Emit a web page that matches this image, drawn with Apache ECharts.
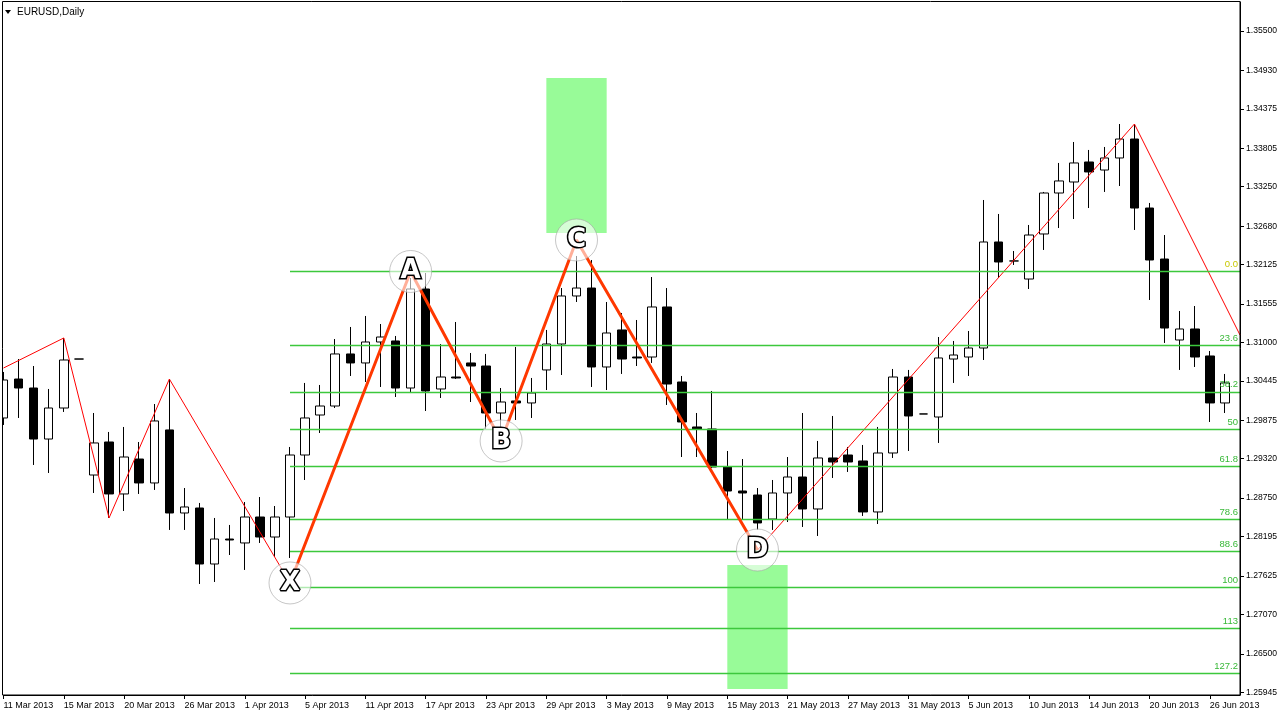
<!DOCTYPE html>
<html><head><meta charset="utf-8">
<script src="https://cdn.jsdelivr.net/npm/echarts@6/dist/echarts.min.js"></script>
<style>html,body{margin:0;padding:0;background:#fff}#c{width:1280px;height:720px}</style>
</head><body><div id="c"></div>
<script>
const dates = ['11 Mar 2013','12 Mar 2013','13 Mar 2013','14 Mar 2013','15 Mar 2013','17 Mar 2013','18 Mar 2013','19 Mar 2013','20 Mar 2013','21 Mar 2013','22 Mar 2013','25 Mar 2013','26 Mar 2013','27 Mar 2013','28 Mar 2013','29 Mar 2013','1 Apr 2013','2 Apr 2013','3 Apr 2013','4 Apr 2013','5 Apr 2013','8 Apr 2013','9 Apr 2013','10 Apr 2013','11 Apr 2013','12 Apr 2013','15 Apr 2013','16 Apr 2013','17 Apr 2013','18 Apr 2013','19 Apr 2013','22 Apr 2013','23 Apr 2013','24 Apr 2013','25 Apr 2013','26 Apr 2013','29 Apr 2013','30 Apr 2013','1 May 2013','2 May 2013','3 May 2013','6 May 2013','7 May 2013','8 May 2013','9 May 2013','10 May 2013','13 May 2013','14 May 2013','15 May 2013','16 May 2013','17 May 2013','20 May 2013','21 May 2013','22 May 2013','23 May 2013','24 May 2013','27 May 2013','28 May 2013','29 May 2013','30 May 2013','31 May 2013','2 Jun 2013','3 Jun 2013','4 Jun 2013','5 Jun 2013','6 Jun 2013','7 Jun 2013','9 Jun 2013','10 Jun 2013','11 Jun 2013','12 Jun 2013','13 Jun 2013','14 Jun 2013','17 Jun 2013','18 Jun 2013','19 Jun 2013','20 Jun 2013','21 Jun 2013','24 Jun 2013','25 Jun 2013','26 Jun 2013','27 Jun 2013','28 Jun 2013'];

const opens = [1.29908,1.30471,1.30341,1.29604,1.30052,1.30760,1.29084,1.29561,1.28810,1.29315,
1.28969,1.29735,1.28535,1.28607,1.27798,1.28159,1.28102,1.28477,1.28188,1.28477,
1.29373,1.29951,1.30081,1.30833,1.30703,1.31006,1.31021,1.30341,1.31772,1.30327,
1.30500,1.30703,1.30659,1.29980,1.30154,1.30125,1.30602,1.30977,1.31671,1.31786,
1.30645,1.31180,1.30789,1.30789,1.31512,1.30428,1.29778,1.29749,1.29200,1.28853,
1.28795,1.28448,1.28824,1.29055,1.28593,1.29330,1.29373,1.29287,1.28550,1.29402,
1.30500,1.29966,1.29922,1.30760,1.30789,1.30919,1.32451,1.32177,1.31916,1.32567,
1.33159,1.33318,1.33607,1.33491,1.33665,1.33939,1.32942,1.32205,1.31035,1.31194,
1.30804,1.30125];
const closes = [1.30457,1.30341,1.29604,1.30052,1.30746,1.30760,1.29547,1.28810,1.29344,1.28969,
1.29865,1.28535,1.28622,1.27798,1.28159,1.28145,1.28477,1.28188,1.28477,1.29373,
1.29908,1.30081,1.30833,1.30703,1.31006,1.31078,1.30341,1.31772,1.30298,1.30500,
1.30486,1.30659,1.29980,1.30139,1.30125,1.30269,1.30977,1.31671,1.31786,1.30645,
1.31136,1.30760,1.30775,1.31512,1.30399,1.29850,1.29749,1.29200,1.28853,1.28824,
1.28391,1.28824,1.29055,1.28593,1.29330,1.29272,1.29272,1.28550,1.29402,1.30500,
1.29937,1.29966,1.30775,1.30818,1.30919,1.32451,1.32162,1.32177,1.32552,1.33159,
1.33333,1.33593,1.33463,1.33665,1.33939,1.32942,1.32191,1.31208,1.31194,1.30789,
1.30125,1.30414];
const lows = [1.29807,1.29908,1.29229,1.29113,1.29995,1.30760,1.28824,1.28463,1.28564,1.28810,
1.28868,1.28290,1.28290,1.27509,1.27538,1.27928,1.27712,1.28102,1.27899,1.27885,
1.29012,1.29691,1.30052,1.30515,1.30428,1.30356,1.30211,1.30269,1.30009,1.30197,
1.30471,1.30139,1.29735,1.29735,1.29879,1.29908,1.30312,1.30529,1.31584,1.30356,
1.30312,1.30544,1.30659,1.30703,1.30096,1.29344,1.29344,1.29185,1.28448,1.28434,
1.28290,1.28290,1.28405,1.28333,1.28203,1.29041,1.29128,1.28492,1.28376,1.29330,
1.29431,1.29966,1.29547,1.30414,1.30515,1.30746,1.31931,1.32119,1.31772,1.32336,
1.32653,1.32783,1.32942,1.33174,1.33260,1.32625,1.31613,1.30992,1.30602,1.30645,
1.29850,1.29980];
const highs = [1.30573,1.30760,1.30659,1.30327,1.31064,1.30760,1.29980,1.29706,1.29778,1.29561,
1.30110,1.30471,1.28896,1.28680,1.28463,1.28362,1.28694,1.28766,1.28636,1.29489,
1.30414,1.30385,1.31049,1.31223,1.31382,1.31266,1.31093,1.31931,1.32003,1.30977,
1.31295,1.30847,1.30833,1.30341,1.30934,1.30486,1.31180,1.31786,1.32249,1.32191,
1.31584,1.31425,1.31324,1.31945,1.31786,1.30515,1.29980,1.30298,1.29431,1.29315,
1.28896,1.29012,1.29344,1.29980,1.29576,1.29937,1.29489,1.29518,1.29778,1.30616,
1.30602,1.29966,1.31078,1.31021,1.31165,1.33058,1.32856,1.32321,1.32697,1.33174,
1.33593,1.33896,1.33781,1.33824,1.34156,1.34156,1.33015,1.32552,1.31454,1.31526,
1.30876,1.30544];

const yTicks = [1.35500,1.34930,1.34375,1.33805,1.33250,1.32680,1.32125,1.31555,1.31000,1.30445,1.29875,1.29320,1.28750,1.28195,1.27625,1.27070,1.26500,1.25945];

const fibLabels = ['0.0','23.6','38.2','50','61.8','78.6','88.6','100','113','127.2'];
const fibPrices = [1.32032,1.30953,1.30286,1.29747,1.29208,1.28440,1.27983,1.27462,1.26868,1.26219];
const fibFrom = 19, fibTo = 82;

const zigIdx = [0,4,7,11,19,27,33,38,50,75,82];
const zigVal = [1.30630,1.31064,1.28463,1.30471,1.27524,1.32025,1.29576,1.32480,1.28000,1.34156,1.31107];

const patNames = ['X','A','B','C','D'];
const patIdx = [19,27,33,38,50];
const patVal = [1.27524,1.32025,1.29576,1.32480,1.28000];

const zoneX = [[36,40],[48,52]];
const zoneY = [[1.34821,1.32581],[1.27784,1.25992]];

const FONT = '"Liberation Sans",Arial,sans-serif';
const FIB_LINE = '#3cc83c';

const chart = echarts.init(document.getElementById('c'));
const ohlc = opens.map((o,i)=>[o, closes[i], lows[i], highs[i]]);

const fibData = fibPrices.map((p,i)=>[
  {coord:[fibFrom,p], lineStyle:{color:FIB_LINE,width:1.4,type:'solid'},
   label:{formatter:fibLabels[i], color: i===0 ? '#c8c800' : '#38b838'}},
  {coord:[fibTo,p], lineStyle:{color:FIB_LINE,width:1.4,type:'solid'}}
]);
const zoneData = zoneX.map((zx,i)=>[{coord:[zx[0],zoneY[i][0]]},{coord:[zx[1],zoneY[i][1]]}]);

chart.setOption({
  animation:false,
  grid:{left:3.5,right:40,top:2,bottom:25,containLabel:false,outerBoundsMode:'none'},
  xAxis:{type:'category',data:dates,boundaryGap:false,
    axisLine:{lineStyle:{color:'#000',width:1}},
    axisTick:{interval:3,length:4,lineStyle:{color:'#000'}},
    axisLabel:{interval:3,align:'left',margin:6,color:'#000',fontSize:9,fontFamily:FONT},
    splitLine:{show:false}},
  yAxis:{type:'value',position:'right',min:1.25905,max:1.35919,scale:true,
    axisLine:{show:true,lineStyle:{color:'#000'}},
    axisTick:{show:true,length:4,customValues:yTicks,lineStyle:{color:'#000'}},
    axisLabel:{customValues:yTicks,formatter:v=>v.toFixed(5),margin:6,color:'#000',fontSize:8.6,fontFamily:FONT},
    splitLine:{show:false}},
  series:[
    {type:'line',data:[],z:1,silent:true,
      markArea:{silent:true,itemStyle:{color:'#98fb98',opacity:1},data:zoneData}},
    {type:'candlestick',data:ohlc,barWidth:9,z:2,silent:true,
      itemStyle:{color:'#ffffff',color0:'#000000',borderColor:'#000000',borderColor0:'#000000',borderColorDoji:'#000000',borderWidth:1}},
    {type:'line',data:[],z:3,silent:true,
      markLine:{silent:true,symbol:['none','none'],
        lineStyle:{color:FIB_LINE,width:1.4,type:'solid'},
        label:{show:true,position:'insideEndTop',distance:2,fontSize:9.5,fontFamily:FONT},
        emphasis:{disabled:true},
        data:fibData}},
    {type:'line',data:zigIdx.map((x,i)=>[x,zigVal[i]]),z:4,silent:true,symbol:'none',
      lineStyle:{color:'#ff0000',width:1}},
    {type:'line',data:patIdx.map((x,i)=>[x,patVal[i]]),z:5,silent:true,symbol:'none',
      lineStyle:{color:'#ff3800',width:3}},
    {type:'scatter',z:6,silent:true,symbol:'circle',symbolSize:42,
      data:patIdx.map((x,i)=>({name:patNames[i],value:[x,patVal[i]]})),
      itemStyle:{color:'rgba(255,255,255,0.6)',borderColor:'rgba(160,160,160,0.6)',borderWidth:1,opacity:1},
      label:{show:true,position:'inside',formatter:'{b}',fontSize:26,fontWeight:'bold',
        fontFamily:'"DejaVu Sans",sans-serif',color:'#ffffff',textBorderColor:'#000000',textBorderWidth:3}}
  ],
  graphic:[
    {type:'rect',shape:{x:0,y:0,width:2,height:720},style:{fill:'#fff'},z:100,silent:true},
    {type:'rect',shape:{x:2.5,y:1.5,width:1237.5,height:693.5},style:{fill:null,stroke:'#000',lineWidth:1},z:100,silent:true},
    {type:'polygon',shape:{points:[[5,10],[11,10],[8,14]]},style:{fill:'#000'},z:101,silent:true},
    {type:'text',x:17,y:12,style:{text:'EURUSD,Daily',fill:'#000',fontSize:10,fontFamily:FONT,verticalAlign:'middle'},z:101,silent:true}
  ]
});
</script>
</body></html>
